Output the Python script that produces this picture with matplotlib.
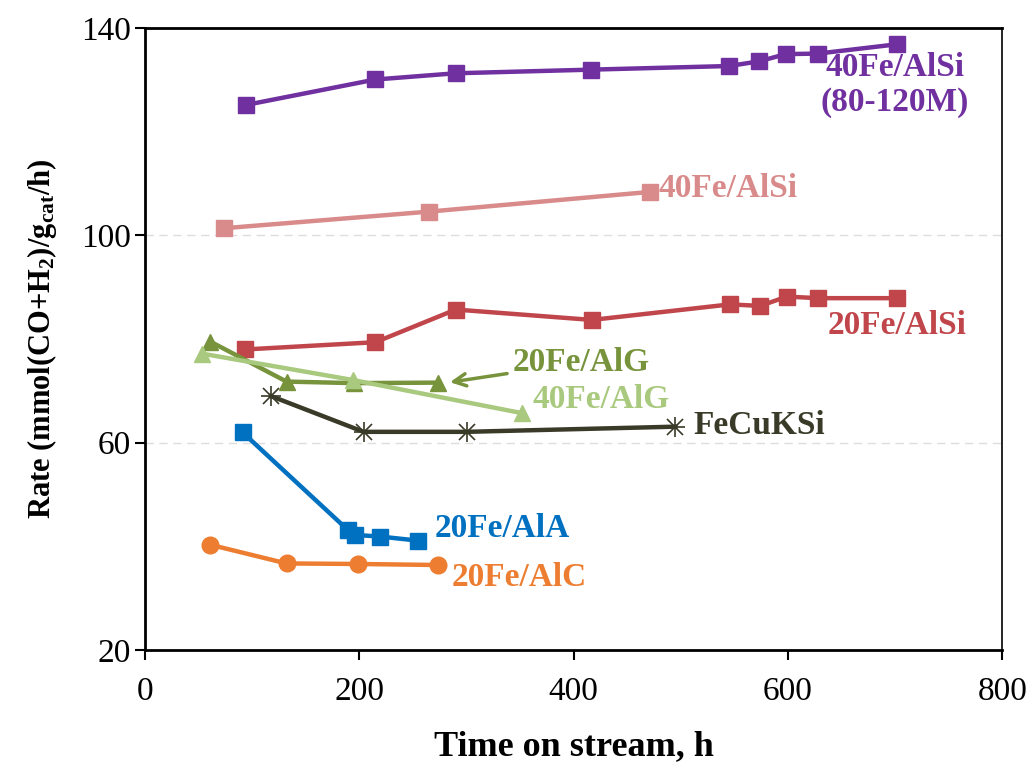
import numpy as np
import matplotlib
matplotlib.use('Agg')
import matplotlib.pyplot as plt

plt.rcParams['font.family'] = 'Liberation Serif'
plt.rcParams['mathtext.fontset'] = 'custom'
plt.rcParams['mathtext.rm'] = 'Liberation Serif:bold'
plt.rcParams['mathtext.it'] = 'Liberation Serif:bold'
plt.rcParams['mathtext.bf'] = 'Liberation Serif:bold'

## Data ##
t_40AlSi_M = [94.5, 215, 290, 416, 545, 573, 598, 628, 702]
r_40AlSi_M = [125.2, 130.1, 131.3, 132.0, 132.7, 133.6, 135.0, 135.1, 136.9]

t_40AlSi = [74, 265, 471]
r_40AlSi = [101.4, 104.6, 108.4]

t_20AlSi = [93.5, 215, 290, 417, 546, 574, 599, 628, 702]
r_20AlSi = [78.0, 79.4, 85.7, 83.7, 86.7, 86.4, 88.2, 87.9, 87.9]

t_20AlG = [61, 132, 195, 273]
r_20AlG = [79.5, 71.8, 71.5, 71.6]

t_40AlG = [53, 194, 352]
r_40AlG = [77.2, 72.1, 65.7]

t_FeCuKSi = [117.5, 204, 300, 495]
r_FeCuKSi = [69.0, 62.1, 62.1, 63.1]

t_20AlA = [91, 189, 196, 219, 255]
r_20AlA = [62.0, 43.2, 42.2, 41.9, 41.1]

t_20AlC = [61, 132, 198.5, 273]
r_20AlC = [40.3, 36.7, 36.6, 36.4]

c_purple = '#7030A0'
c_pink = '#D98A8A'
c_red = '#C0464B'
c_dgreen = '#77933C'
c_lgreen = '#A9C97F'
c_black = '#3A3A28'
c_blue = '#0070C0'
c_orange = '#ED7D31'

fig = plt.figure(figsize=(10.29, 7.62), dpi=100)
ax = fig.add_axes([0.141, 0.147, 0.833, 0.816])

lw = 3.2
ax.plot(t_40AlSi_M, r_40AlSi_M, '-s', color=c_purple, lw=lw, ms=11)
ax.plot(t_40AlSi, r_40AlSi, '-s', color=c_pink, lw=lw, ms=11)
ax.plot(t_20AlSi, r_20AlSi, '-s', color=c_red, lw=lw, ms=11)
ax.plot(t_20AlG, r_20AlG, '-^', color=c_dgreen, lw=lw, ms=12)
ax.plot(t_40AlG, r_40AlG, '-^', color=c_lgreen, lw=lw, ms=12)
ax.plot(t_FeCuKSi, r_FeCuKSi, '-x', color=c_black, lw=lw, ms=12, mew=1.2)
ax.plot(t_FeCuKSi, r_FeCuKSi, '+', color=c_black, ms=14, mew=1.2)
ax.plot(t_20AlA, r_20AlA, '-s', color=c_blue, lw=lw, ms=11)
ax.plot(t_20AlC, r_20AlC, '-o', color=c_orange, lw=lw, ms=12)

tk = dict(fontsize=24, fontweight='bold')
ax.text(700, 129, '40Fe/AlSi\n(80-120M)', color=c_purple, ha='center', va='center',
        linespacing=1.15, **tk)
ax.text(479, 109, '40Fe/AlSi', color=c_pink, ha='left', va='center', **tk)
ax.text(702, 82.6, '20Fe/AlSi', color=c_red, ha='center', va='center', **tk)
ax.annotate('20Fe/AlG', xy=(282, 71.6), xytext=(343, 75.5), color=c_dgreen,
            ha='left', va='center', **tk,
            arrowprops=dict(arrowstyle='->', color=c_dgreen, lw=2.5,
                            shrinkA=2, shrinkB=2, mutation_scale=22))
ax.text(362, 68.4, '40Fe/AlG', color=c_lgreen, ha='left', va='center', **tk)
ax.text(512, 63.3, 'FeCuKSi', color=c_black, ha='left', va='center', **tk)
ax.text(270, 43.4, '20Fe/AlA', color=c_blue, ha='left', va='center', **tk)
ax.text(286, 34.0, '20Fe/AlC', color=c_orange, ha='left', va='center', **tk)

ax.set_xlim(0, 800)
ax.set_ylim(20, 140)
ax.set_xticks([0, 200, 400, 600, 800])
ax.set_yticks([20, 60, 100, 140])
ax.tick_params(axis='both', labelsize=24, direction='out', length=7, width=1.5)
ax.tick_params(axis='y', pad=3)
ax.tick_params(axis='x', pad=12)
ax.grid(True, axis='y', linestyle=(0, (6, 4)), color='#DDDDDD', lw=1)
ax.set_axisbelow(True)
for s in ax.spines.values():
    s.set_linewidth(2)
ax.spines['right'].set_linewidth(1.2)

ax.set_xlabel('Time on stream, h', fontsize=26, fontweight='bold', labelpad=17)
ax.set_ylabel(r'Rate (mmol(CO+H$_2$)/g$_{cat}$/h)', fontsize=22, fontweight='bold', labelpad=16)

fig.savefig('out.png', dpi=100)
